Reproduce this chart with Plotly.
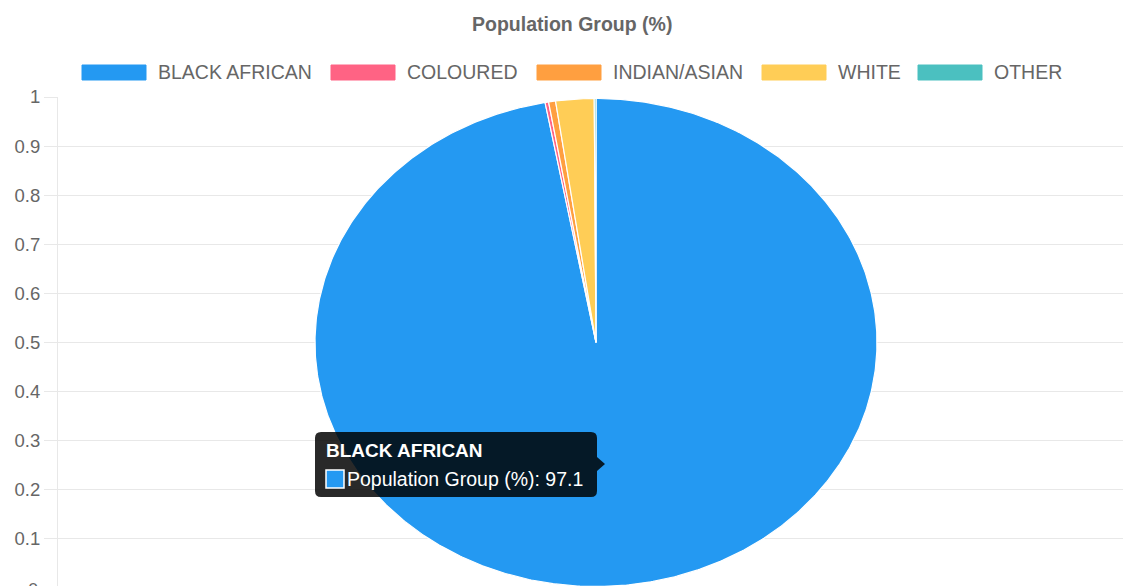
import numpy as np
import plotly.graph_objects as go

# ---- data ----
categories = ["BLACK AFRICAN", "COLOURED", "INDIAN/ASIAN", "WHITE", "OTHER"]
values = [97.1, 0.2, 0.4, 2.2, 0.1]
colors = ["#2499f2", "#ff6384", "#ff9f40", "#ffcd56", "#4bc0c0"]
y_tick_vals = [0, 0.1, 0.2, 0.3, 0.4, 0.5, 0.6, 0.7, 0.8, 0.9, 1]
y_tick_text = ["0", "0.1", "0.2", "0.3", "0.4", "0.5", "0.6", "0.7", "0.8", "0.9", "1"]
chart_title = "Population Group (%)"
series_name = "Population Group (%)"

# ---- layout constants (pixels) ----
W, H = 1123, 586
L, T, B, R = 58, 97, 0, 0
PLOT_H = H - T - B
FONT = "Liberation Sans, Arial, Helvetica, sans-serif"
GREY = "#666666"
GRID = "#e8e8e8"

def px(xp):
    return (xp - L) / (W - L - R)

def py(yp):
    return (H - B - yp) / PLOT_H

# pie geometry on the axes (x axis in pixel-like units, y axis 0..1)
CX, RX = 596, 281
CY, RY = 0.5, 0.497

fig = go.Figure()

total = sum(values)
start = 0.0
for cat, val, col in zip(categories, values, colors):
    frac = val / total
    a0, a1 = start * 2 * np.pi, (start + frac) * 2 * np.pi
    n = max(4, int(frac * 720))
    th = np.linspace(a0, a1, n)
    xs = np.concatenate([[CX], CX + RX * np.sin(th), [CX]])
    ys = np.concatenate([[CY], CY + RY * np.cos(th), [CY]])
    fig.add_trace(go.Scatter(
        x=xs, y=ys, mode="lines", fill="toself", fillcolor=col,
        line=dict(color="white", width=1.2), name=cat, hoveron="fills",
        hovertemplate=f"{cat}<br>{series_name}: {val}<extra></extra>",
        showlegend=False,
    ))
    start += frac

shapes = []
annotations = []

# title
annotations.append(dict(text=f"<b>{chart_title}</b>", x=px(572), y=py(24),
                        xref="paper", yref="paper", showarrow=False,
                        xanchor="center", yanchor="middle",
                        font=dict(family=FONT, size=19.5, color=GREY)))

# legend (drawn manually to mimic wide boxes)
legend_box_x = [82, 331, 537, 762, 918]
for cat, col, bx in zip(categories, colors, legend_box_x):
    shapes.append(dict(type="rect", xref="paper", yref="paper",
                       x0=px(bx), x1=px(bx + 64), y0=py(80), y1=py(65),
                       fillcolor=col, line=dict(color=col, width=1), layer="above"))
    annotations.append(dict(text=cat, x=px(bx + 74), y=py(72.5), xref="paper", yref="paper",
                            showarrow=False, xanchor="left", yanchor="middle",
                            font=dict(family=FONT, size=19.5, color=GREY)))

# zero tick label (partially cut by page bottom)
annotations.append(dict(text="0", x=px(40), y=py(589), xref="paper", yref="paper",
                        showarrow=False, xanchor="right", yanchor="middle",
                        font=dict(family=FONT, size=18.5, color=GREY)))

# tooltip
x0, x1, y0, y1, r = 315, 597, 432, 497, 6
tip = (f"M {px(x0 + r)},{py(y0)} L {px(x1 - r)},{py(y0)} "
       f"Q {px(x1)},{py(y0)} {px(x1)},{py(y0 + r)} "
       f"L {px(x1)},{py(457)} L {px(605)},{py(464)} L {px(x1)},{py(471)} "
       f"L {px(x1)},{py(y1 - r)} Q {px(x1)},{py(y1)} {px(x1 - r)},{py(y1)} "
       f"L {px(x0 + r)},{py(y1)} Q {px(x0)},{py(y1)} {px(x0)},{py(y1 - r)} "
       f"L {px(x0)},{py(y0 + r)} Q {px(x0)},{py(y0)} {px(x0 + r)},{py(y0)} Z")
shapes.append(dict(type="path", xref="paper", yref="paper", path=tip,
                   fillcolor="rgba(0,0,0,0.84)", line=dict(width=0), layer="above"))
shapes.append(dict(type="rect", xref="paper", yref="paper",
                   x0=px(326), x1=px(344), y0=py(488), y1=py(470),
                   fillcolor=colors[0], line=dict(color="white", width=1.5), layer="above"))
annotations.append(dict(text=f"<b>{categories[0]}</b>", x=px(324), y=py(450),
                        xref="paper", yref="paper", showarrow=False,
                        xanchor="left", yanchor="middle",
                        font=dict(family=FONT, size=19, color="white")))
annotations.append(dict(text=f"{series_name}: {values[0]}", x=px(345), y=py(479),
                        xref="paper", yref="paper", showarrow=False,
                        xanchor="left", yanchor="middle",
                        font=dict(family=FONT, size=19.5, color="white")))

fig.update_layout(
    width=W, height=H,
    margin=dict(l=L, r=R, t=T, b=B, pad=0),
    plot_bgcolor="white", paper_bgcolor="white",
    showlegend=False,
    xaxis=dict(range=[L, W], visible=False, fixedrange=True),
    yaxis=dict(range=[2 / 491, 1], tickvals=y_tick_vals, ticktext=y_tick_text,
               showgrid=True, gridcolor=GRID, gridwidth=1, zeroline=False,
               showline=True, linecolor=GRID, linewidth=1,
               ticks="outside", ticklen=13, tickcolor=GRID,
               tickfont=dict(family=FONT, size=18.5, color=GREY), fixedrange=True),
    shapes=shapes, annotations=annotations,
    hoverlabel=dict(bgcolor="rgba(0,0,0,0.8)", font=dict(color="white", family=FONT)),
)

fig.write_html("out.html", config={"displayModeBar": False})
